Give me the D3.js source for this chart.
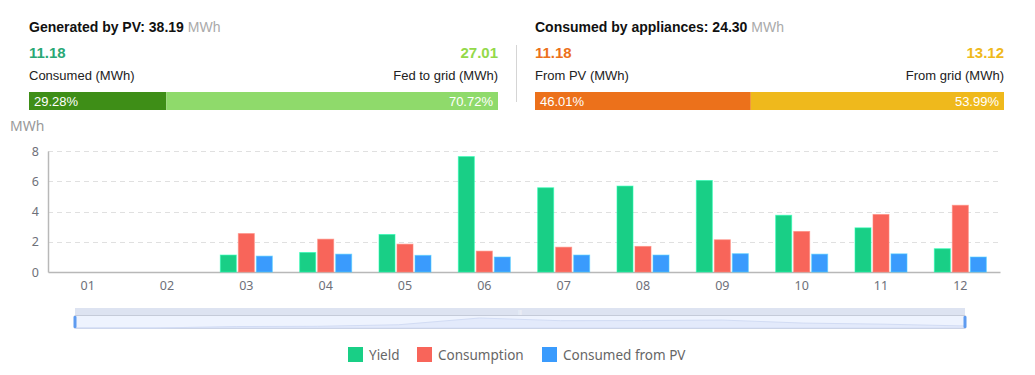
<!DOCTYPE html>
<html>
<head>
<meta charset="utf-8">
<script src="https://cdn.jsdelivr.net/npm/d3@7/dist/d3.min.js"></script>
<style>
	body { margin: 0; background: #fff; }
	svg { display: block; }
	.head-title { font-family: "Liberation Sans", Arial, sans-serif; font-size: 14px; font-weight: bold; fill: #111; }
	.head-unit { font-weight: normal; fill: #aaa; }
	.head-value { font-family: "Liberation Sans", Arial, sans-serif; font-size: 15px; font-weight: bold; }
	.head-label { font-family: "Liberation Sans", Arial, sans-serif; font-size: 13px; fill: #222; }
	.pct { font-family: "Liberation Sans", Arial, sans-serif; font-size: 13px; fill: #fff; }
	.tick-text { font-family: "Noto Sans", sans-serif; font-size: 12.5px; fill: #6e7079; }
	.legend-text { font-family: "Noto Sans", sans-serif; font-size: 13.5px; fill: #666; }
</style>
</head>
<body>
<div id="chart"></div>
<script>
// data
var months = ['01', '02', '03', '04', '05', '06', '07', '08', '09', '10', '11', '12'];
var yieldVals = [0, 0, 1.12, 1.29, 2.48, 7.63, 5.57, 5.68, 6.05, 3.75, 2.92, 1.54];
var consumptionVals = [0, 0, 2.54, 2.17, 1.84, 1.38, 1.64, 1.69, 2.13, 2.68, 3.80, 4.41];
var consumedPvVals = [0, 0, 1.05, 1.18, 1.10, 0.99, 1.12, 1.12, 1.21, 1.18, 1.20, 0.99];
var seriesNames = ['Yield', 'Consumption', 'Consumed from PV'];
var seriesColors = ['#19cf86', '#f8655a', '#3a9bfd'];
var yTicks = [0, 2, 4, 6, 8];

// header summary
var pvTotal = '38.19', pvConsumed = '11.18', pvFed = '27.01';
var pvShares = [29.28, 70.72];
var appTotal = '24.30', appFromPv = '11.18', appFromGrid = '13.12';
var appShares = [46.01, 53.99];

var width = 1035;
var height = 375;

var svg = d3.select('#chart').append('svg')
	.attr('width', width)
	.attr('height', height);

// - header panels -

function panel(x0, title, total, leftVal, rightVal, leftLabel, rightLabel, shares, cols) {
	var w = 469;
	var g = svg.append('g').attr('transform', 'translate(' + x0 + ',0)');

	var t = g.append('text').attr('class', 'head-title').attr('x', 0).attr('y', 32);
	t.append('tspan').text(title + ': ' + total + ' ');
	t.append('tspan').attr('class', 'head-unit').text('MWh');

	g.append('text').attr('class', 'head-value').attr('x', 0).attr('y', 58)
		.attr('fill', cols[2]).text(leftVal);
	g.append('text').attr('class', 'head-value').attr('x', w).attr('y', 58)
		.attr('text-anchor', 'end').attr('fill', cols[3]).text(rightVal);

	g.append('text').attr('class', 'head-label').attr('x', 0).attr('y', 80).text(leftLabel);
	g.append('text').attr('class', 'head-label').attr('x', w).attr('y', 80)
		.attr('text-anchor', 'end').text(rightLabel);

	var xs = d3.scaleLinear().domain([0, 100]).range([0, w]);
	g.append('rect').attr('x', 0).attr('y', 92).attr('height', 18)
		.attr('width', xs(shares[0])).attr('fill', cols[0]);
	g.append('rect').attr('x', xs(shares[0])).attr('y', 92).attr('height', 18)
		.attr('width', w - xs(shares[0])).attr('fill', cols[1]);

	g.append('text').attr('class', 'pct').attr('x', 5).attr('y', 105.5)
		.text(shares[0].toFixed(2) + '%');
	g.append('text').attr('class', 'pct').attr('x', w - 5).attr('y', 105.5)
		.attr('text-anchor', 'end').text(shares[1].toFixed(2) + '%');
}

panel(29, 'Generated by PV', pvTotal, pvConsumed, pvFed, 'Consumed (MWh)', 'Fed to grid (MWh)',
	pvShares, ['#3e8e17', '#8fda6b', '#2aa876', '#93d94a']);
panel(535, 'Consumed by appliances', appTotal, appFromPv, appFromGrid, 'From PV (MWh)', 'From grid (MWh)',
	appShares, ['#ec711b', '#efb91c', '#ec711b', '#efb91c']);

svg.append('line')
	.attr('x1', 516.5).attr('x2', 516.5)
	.attr('y1', 45).attr('y2', 102)
	.attr('stroke', '#d5d5d5');

// - bar chart -

var plotLeft = 48, plotRight = 1000, plotTop = 151, plotBottom = 272;

var x = d3.scaleBand().domain(months).range([plotLeft, plotRight]);
var y = d3.scaleLinear().domain([0, 8]).range([plotBottom, plotTop]);

svg.append('text')
	.attr('x', 10).attr('y', 131)
	.style('font-family', '"Noto Sans", sans-serif')
	.style('font-size', '14px')
	.style('fill', '#999')
	.text('MWh');

// grid
svg.selectAll('.grid')
	.data(yTicks.filter(function(d) { return d > 0; }))
	.enter().append('line')
		.attr('x1', plotLeft).attr('x2', plotRight)
		.attr('y1', function(d) { return Math.round(y(d)) + 0.5; })
		.attr('y2', function(d) { return Math.round(y(d)) + 0.5; })
		.attr('stroke', '#e0e0e0')
		.attr('stroke-dasharray', '5,4');

// y axis
var gy = svg.append('g').attr('transform', 'translate(' + plotLeft + ',0)')
	.call(d3.axisLeft(y).tickValues(yTicks).tickSize(0).tickPadding(9));
gy.select('.domain').attr('stroke', '#b8b8b8').attr('stroke-width', 1.5);
gy.selectAll('text').attr('class', 'tick-text').attr('fill', null);

// x axis
var gx = svg.append('g').attr('transform', 'translate(0,' + plotBottom + ')')
	.call(d3.axisBottom(x).tickSize(0).tickPadding(9));
gx.select('.domain').attr('stroke', '#b8b8b8').attr('stroke-width', 1.5);
gx.selectAll('text').attr('class', 'tick-text').attr('fill', null);

var allSeries = [yieldVals, consumptionVals, consumedPvVals];
var barW = 16, step = 18;

allSeries.forEach(function(vals, s) {
	svg.selectAll('.bar-' + s)
		.data(vals.map(function(v, i) { return { m: months[i], v: v }; }).filter(function(d) { return d.v > 0; }))
		.enter().append('rect')
			.attr('x', function(d) { return x(d.m) + x.bandwidth() / 2 + (s - 1) * step - barW / 2; })
			.attr('width', barW)
			.attr('y', function(d) { return y(d.v); })
			.attr('height', function(d) { return plotBottom - y(d.v); })
			.attr('fill', seriesColors[s])
			.attr('stroke', d3.color(seriesColors[s]).brighter(0.8))
			.attr('stroke-opacity', 0.6)
			.attr('stroke-width', 1);
});

// - data zoom slider -

var zl = 75, zr = 965;
svg.append('rect').attr('x', zl).attr('y', 308).attr('width', zr - zl).attr('height', 7)
	.attr('fill', '#dde3f1');
svg.append('rect').attr('x', zl).attr('y', 315.5).attr('width', zr - zl).attr('height', 13)
	.attr('fill', '#eef3fe').attr('stroke', '#c5cbd9');

var zx = d3.scalePoint().domain(months).range([zl, zr]);
var zy = d3.scaleLinear().domain([0, d3.max(yieldVals)]).range([328, 318]);
var shadow = d3.area()
	.x(function(d, i) { return zx(months[i]); })
	.y0(328).y1(function(d) { return zy(d); });
svg.append('path').datum(yieldVals)
	.attr('d', shadow)
	.attr('fill', '#e3eafb')
	.attr('stroke', '#d2dcf4');

svg.append('text').attr('x', (zl + zr) / 2).attr('y', 314)
	.attr('text-anchor', 'middle').attr('font-size', 6).attr('fill', '#fff').text('|||');

[zl, zr].forEach(function(hx) {
	svg.append('rect').attr('x', hx - 1.5).attr('y', 316).attr('width', 3).attr('height', 12)
		.attr('rx', 1).attr('fill', '#5e9bf0');
});

// - legend -

var legendX = [348, 417, 542];
var gLegend = svg.selectAll('.legend')
	.data(seriesNames)
	.enter().append('g')
		.attr('transform', function(d, i) { return 'translate(' + legendX[i] + ',347)'; });

gLegend.append('rect')
	.attr('width', 15).attr('height', 15)
	.attr('fill', function(d, i) { return seriesColors[i]; });

gLegend.append('text')
	.attr('class', 'legend-text')
	.attr('x', 21).attr('y', 12.5)
	.text(function(d) { return d; });
</script>
</body>
</html>
